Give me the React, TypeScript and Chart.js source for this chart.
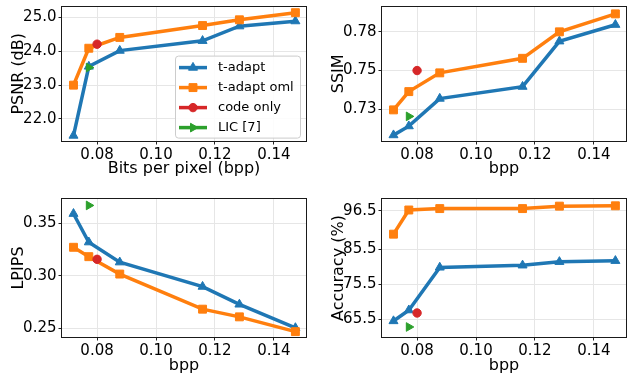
import React, { useEffect, useRef } from 'react';
import { Chart, registerables } from 'chart.js';

Chart.register(...registerables);

// ---------- data ----------
const bpp = [0.072, 0.0772, 0.0877, 0.1158, 0.1283, 0.1473];
const codeOnlyBpp = [0.08];
const licBpp = [0.0772];

const psnrAdapt = [21.51, 23.55, 24.02, 24.31, 24.74, 24.89];
const psnrOml = [23.0, 24.09, 24.41, 24.76, 24.93, 25.14];
const psnrCode = [24.21];
const psnrLic = [23.52];

const ssimAdapt = [0.7133, 0.7191, 0.7369, 0.7446, 0.7739, 0.7846];
const ssimOml = [0.7296, 0.7414, 0.7535, 0.7629, 0.78, 0.7916];
const ssimCode = [0.755];
const ssimLic = [0.7254];

const lpipsAdapt = [0.3589, 0.3319, 0.3129, 0.2898, 0.2729, 0.2506];
const lpipsOml = [0.3271, 0.3182, 0.3017, 0.2684, 0.2611, 0.2471];
const lpipsCode = [0.3157];
const lpipsLic = [0.3668];

const accAdapt = [65.0, 68.1, 80.3, 80.9, 81.9, 82.2];
const accOml = [89.8, 96.7, 97.1, 97.1, 97.8, 97.9];
const accCode = [67.3];
const accLic = [63.3];

const seriesLabels = ['t-adapt', 't-adapt oml', 'code only', 'LIC [7]'];

const xTicks = [0.08, 0.1, 0.12, 0.14];
const xTickLabels = ['0.08', '0.10', '0.12', '0.14'];

const psnrTicks = [22, 23, 24, 25];
const psnrTickLabels = ['22.0', '23.0', '24.0', '25.0'];
const ssimTicks = [0.73, 0.755, 0.78];
const ssimTickLabels = ['0.73', '0.75', '0.78'];
const lpipsTicks = [0.25, 0.3, 0.35];
const lpipsTickLabels = ['0.25', '0.30', '0.35'];
const accTicks = [65.5, 75.5, 85.5, 96.5];
const accTickLabels = ['65.5', '75.5', '85.5', '96.5'];

// ---------- styles ----------
const FONT = "'DejaVu Sans', sans-serif";
const COLORS = ['#1f77b4', '#ff7f0e', '#d62728', '#2ca02c'];
const POINT_STYLES = ['triangle', 'rect', 'circle', 'triangle'];
const POINT_ROT = [0, 0, 0, 90];
const POINT_R = [5.2, 5.6, 4.2, 5.0];
const X_RANGE = [0.0681, 0.1509];

const zip = (xs: number[], ys: number[]) => ys.map((y, i) => ({ x: xs[i], y }));

type PanelCfg = {
  left: number; top: number; w: number; h: number;
  area: { l: number; t: number; r: number; b: number };
  yTitle: string; xTitle: string;
  yTicks: number[]; yTickLabels: string[];
  yMin: number; yMax: number;
  ys: number[][];
  yTitlePad: number; xTitlePad: number;
  legend: boolean;
};

const panels: PanelCfg[] = [
  {
    left: 0, top: 0, w: 317, h: 188, area: { l: 62, t: 3, r: 306, b: 141 },
    yTitle: 'PSNR (dB)', xTitle: 'Bits per pixel (bpp)',
    yTicks: psnrTicks, yTickLabels: psnrTickLabels, yMin: 21.35, yMax: 25.32,
    ys: [psnrAdapt, psnrOml, psnrCode, psnrLic], yTitlePad: 9, xTitlePad: 9.8, legend: true,
  },
  {
    left: 317, top: 0, w: 318, h: 188, area: { l: 65, t: 3, r: 309, b: 141 },
    yTitle: 'SSIM', xTitle: 'bpp',
    yTicks: ssimTicks, yTickLabels: ssimTickLabels, yMin: 0.7095, yMax: 0.7963,
    ys: [ssimAdapt, ssimOml, ssimCode, ssimLic], yTitlePad: 11.8, xTitlePad: 9.8, legend: false,
  },
  {
    left: 0, top: 188, w: 317, h: 188, area: { l: 62, t: 11, r: 306, b: 149 },
    yTitle: 'LPIPS', xTitle: 'bpp',
    yTicks: lpipsTicks, yTickLabels: lpipsTickLabels, yMin: 0.242, yMax: 0.3729,
    ys: [lpipsAdapt, lpipsOml, lpipsCode, lpipsLic], yTitlePad: 9, xTitlePad: 0.5, legend: false,
  },
  {
    left: 317, top: 188, w: 318, h: 188, area: { l: 65, t: 11, r: 309, b: 149 },
    yTitle: 'Accuracy (%)', xTitle: 'bpp',
    yTicks: accTicks, yTickLabels: accTickLabels, yMin: 60.44, yMax: 99.84,
    ys: [accAdapt, accOml, accCode, accLic], yTitlePad: 11.8, xTitlePad: 0.5, legend: false,
  },
];

// ---------- plugins ----------
const framePlugin = {
  id: 'frame',
  afterDatasetsDraw(chart: any) {
    const { ctx, chartArea: a } = chart;
    ctx.save();
    ctx.strokeStyle = '#1a1a1a';
    ctx.lineWidth = 1;
    ctx.strokeRect(Math.round(a.left) - 0.5, Math.round(a.top) - 0.5,
      Math.round(a.right - a.left) + 1, Math.round(a.bottom - a.top) + 1);
    ctx.restore();
  },
};

function drawMarker(ctx: CanvasRenderingContext2D, style: string, x: number, y: number, r: number, rot: number) {
  ctx.beginPath();
  if (style === 'triangle') {
    let rad = (rot * Math.PI) / 180;
    ctx.moveTo(x + Math.sin(rad) * r, y - Math.cos(rad) * r);
    rad += (2 * Math.PI) / 3;
    ctx.lineTo(x + Math.sin(rad) * r, y - Math.cos(rad) * r);
    rad += (2 * Math.PI) / 3;
    ctx.lineTo(x + Math.sin(rad) * r, y - Math.cos(rad) * r);
    ctx.closePath();
  } else if (style === 'rect') {
    const s = Math.SQRT1_2 * r;
    ctx.rect(x - s, y - s, 2 * s, 2 * s);
  } else {
    ctx.arc(x, y, r, 0, Math.PI * 2);
  }
  ctx.fill();
  ctx.stroke();
}

const insetLegendPlugin = {
  id: 'insetLegend',
  afterDraw(chart: any, _args: any, opts: any) {
    if (!opts || !opts.show) return;
    const { ctx, chartArea: a } = chart;
    const bx = a.left + 113.5, by = a.top + 49.5, bw = 125, bh = 82;
    ctx.save();
    ctx.fillStyle = 'rgba(255,255,255,0.85)';
    ctx.strokeStyle = '#cccccc';
    ctx.lineWidth = 1;
    ctx.beginPath();
    ctx.roundRect(bx, by, bw, bh, 3);
    ctx.fill();
    ctx.stroke();
    chart.data.datasets.forEach((ds: any, i: number) => {
      const yy = by + 11.5 + i * 20;
      ctx.strokeStyle = COLORS[i];
      ctx.fillStyle = COLORS[i];
      ctx.lineWidth = 3.5;
      ctx.beginPath();
      ctx.moveTo(bx + 3.5, yy);
      ctx.lineTo(bx + 31.5, yy);
      ctx.stroke();
      ctx.lineWidth = 1;
      drawMarker(ctx, POINT_STYLES[i], bx + 17.5, yy, POINT_R[i], POINT_ROT[i]);
      ctx.fillStyle = '#000';
      ctx.font = `13px ${FONT}`;
      ctx.textBaseline = 'middle';
      ctx.textAlign = 'left';
      ctx.fillText(ds.label, bx + 42.5, yy + 0.5);
    });
    ctx.restore();
  },
};

// ---------- component ----------
function Panel({ cfg }: { cfg: PanelCfg }) {
  const ref = useRef<HTMLCanvasElement | null>(null);
  useEffect(() => {
    if (!ref.current) return;
    const xsFor = [bpp, bpp, codeOnlyBpp, licBpp];
    const datasets = cfg.ys.map((ys, i) => ({
      label: seriesLabels[i],
      data: zip(xsFor[i], ys),
      borderColor: COLORS[i],
      backgroundColor: COLORS[i],
      borderWidth: 3.5,
      showLine: i < 2,
      pointStyle: POINT_STYLES[i],
      rotation: POINT_ROT[i],
      pointRadius: POINT_R[i],
      pointBorderWidth: 1,
      pointBackgroundColor: COLORS[i],
      pointBorderColor: COLORS[i],
      order: 3 - i,
      clip: false as any,
    }));
    const tickFont = { family: FONT, size: 15 };
    const titleFont = { family: FONT, size: 16 };
    const chart = new Chart(ref.current, {
      type: 'line',
      data: { datasets },
      plugins: [framePlugin, insetLegendPlugin],
      options: {
        animation: false,
        responsive: false,
        maintainAspectRatio: false,
        devicePixelRatio: 1,
        layout: { padding: { left: 0, top: cfg.area.t, right: cfg.w - cfg.area.r, bottom: 0 } },
        plugins: {
          legend: { display: false },
          tooltip: { enabled: false },
          insetLegend: { show: cfg.legend },
        } as any,
        scales: {
          x: {
            type: 'linear',
            min: X_RANGE[0],
            max: X_RANGE[1],
            afterBuildTicks: (s: any) => { s.ticks = xTicks.map((v) => ({ value: v })); },
            afterFit: (s: any) => { s.height = cfg.h - cfg.area.b; s.paddingLeft = 0; s.paddingRight = 0; },
            ticks: {
              callback: (_v: any, i: number) => xTickLabels[i],
              font: tickFont, color: '#000', padding: 1.5, maxRotation: 0, autoSkip: false,
            },
            grid: { color: '#e6e6e6', lineWidth: 1, tickColor: '#222', tickLength: 3.5, drawTicks: true },
            border: { display: false },
            title: { display: true, text: cfg.xTitle, font: titleFont, color: '#000', padding: { top: 0, bottom: cfg.xTitlePad } },
          },
          y: {
            type: 'linear',
            min: cfg.yMin,
            max: cfg.yMax,
            afterBuildTicks: (s: any) => { s.ticks = cfg.yTicks.map((v) => ({ value: v })); },
            afterFit: (s: any) => { s.width = cfg.area.l; s.paddingTop = 0; s.paddingBottom = 0; },
            ticks: {
              callback: (_v: any, i: number) => cfg.yTickLabels[i],
              font: tickFont, color: '#000', padding: 2, autoSkip: false,
            },
            grid: { color: '#e6e6e6', lineWidth: 1, tickColor: '#222', tickLength: 3.5, drawTicks: true },
            border: { display: false },
            title: { display: true, text: cfg.yTitle, font: titleFont, color: '#000', padding: { top: cfg.yTitlePad, bottom: 0 } },
          },
        },
      } as any,
    });
    return () => chart.destroy();
  }, [cfg]);
  return (
    <canvas
      ref={ref}
      width={cfg.w}
      height={cfg.h}
      style={{ position: 'absolute', left: cfg.left, top: cfg.top, width: cfg.w, height: cfg.h }}
    />
  );
}

export default function App() {
  return (
    <div style={{ position: 'absolute', left: 0, top: 0, width: 635, height: 376, background: '#fff', overflow: 'hidden' }}>
      {panels.map((p, i) => (
        <Panel key={i} cfg={p} />
      ))}
    </div>
  );
}
